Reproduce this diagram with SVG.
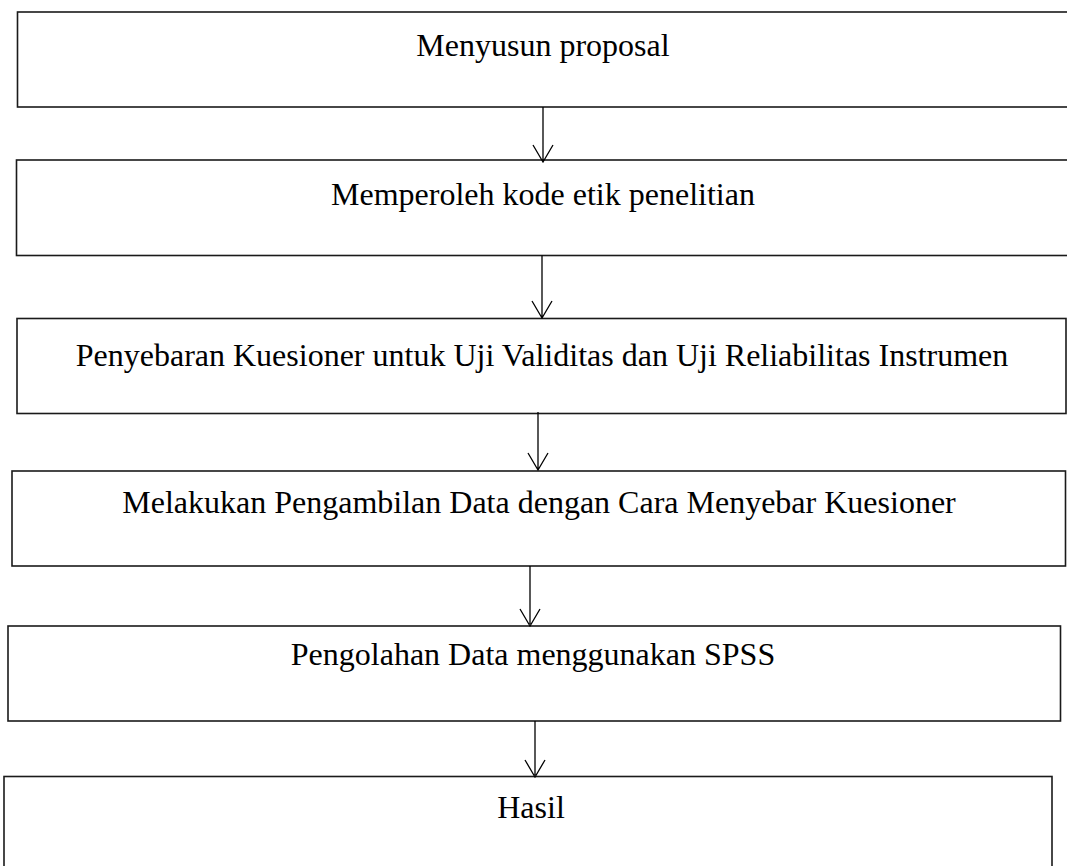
<svg xmlns="http://www.w3.org/2000/svg" width="1067" height="866" viewBox="0 0 1067 866">
<style>
.box{fill:#fff;stroke:#1a1a1a;stroke-width:1.6}
.t{font-family:"Liberation Serif","Times New Roman",serif;font-size:32px;fill:#000;text-anchor:middle}
.c{stroke:#000;stroke-width:1.3;fill:none}
</style>
<rect width="1067" height="866" fill="#fff"/>
<g id="n1"><rect class="box" x="17.5" y="12" width="1060" height="95"/><text class="t" x="543" y="56">Menyusun proposal</text></g>
<g id="n2"><rect class="box" x="16.5" y="160" width="1060" height="95.5"/><text class="t" x="543" y="205">Memperoleh kode etik penelitian</text></g>
<g id="n3"><rect class="box" x="17" y="318.5" width="1049" height="95"/><text class="t" x="542" y="366">Penyebaran Kuesioner untuk Uji Validitas dan Uji Reliabilitas Instrumen</text></g>
<g id="n4"><rect class="box" x="12" y="471" width="1053.5" height="95"/><text class="t" x="539" y="513">Melakukan Pengambilan Data dengan Cara Menyebar Kuesioner</text></g>
<g id="n5"><rect class="box" x="8" y="626" width="1052.5" height="95"/><text class="t" x="533" y="665">Pengolahan Data menggunakan SPSS</text></g>
<g id="n6"><rect class="box" x="4" y="776.5" width="1048" height="100"/><text class="t" x="531" y="818">Hasil</text></g>
<g id="connectors">
<path class="c" d="M543 107V161M533 145L543 162L553 145"/>
<path class="c" d="M542 255.5V317M532 301L542 318L552 301"/>
<path class="c" d="M538 412V469M528 453L538 470L548 453"/>
<path class="c" d="M530 566V624M520 609L530 626L540 609"/>
<path class="c" d="M535 721V775M525 760L535 777L545 760"/>
</g>
</svg>
